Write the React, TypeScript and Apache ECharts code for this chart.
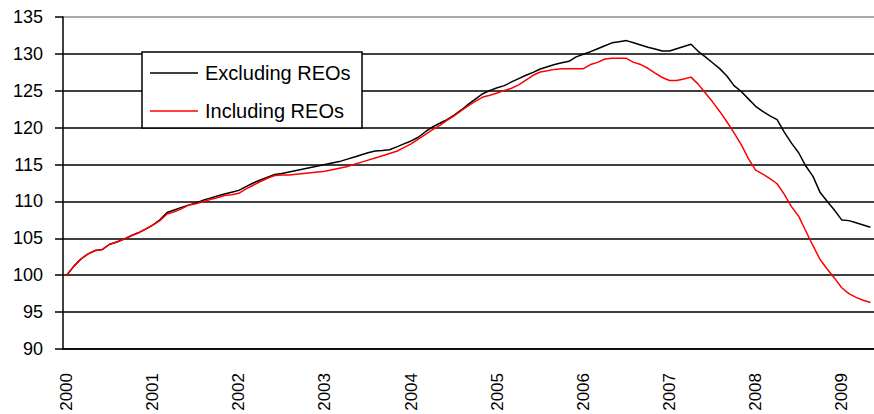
import React, { useEffect, useRef } from 'react';
import * as echarts from 'echarts';

const years = ['2000', '2001', '2002', '2003', '2004', '2005', '2006', '2007', '2008', '2009'];
const months = ['01', '02', '03', '04', '05', '06', '07', '08', '09', '10', '11', '12'];
const monthCount = 113; // Jan 2000 .. May 2009
const categories = years.flatMap((y) => months.map((m) => `${y}-${m}`)).slice(0, monthCount);

const seriesNames = ['Excluding REOs', 'Including REOs'];

const excludingREOs = [
  100.0, 101.2, 102.2, 102.9, 103.35, 103.5, 104.2, 104.5, 104.9, 105.35, 105.75, 106.25,
  106.8, 107.5, 108.5, 108.85, 109.2, 109.5, 109.8, 110.15, 110.45, 110.75, 111.0, 111.25,
  111.5, 112.0, 112.5, 112.9, 113.3, 113.65, 113.8, 114.0, 114.2, 114.4, 114.6, 114.8,
  115.0, 115.2, 115.4, 115.7, 116.0, 116.3, 116.6, 116.85, 116.9, 117.0, 117.4, 117.8,
  118.2, 118.7, 119.45, 120.1, 120.6, 121.1, 121.7, 122.4, 123.2, 123.9, 124.6, 125.05,
  125.4, 125.7, 126.2, 126.65, 127.1, 127.5, 127.95, 128.25, 128.55, 128.8, 129.0, 129.6,
  129.95, 130.3, 130.7, 131.1, 131.5, 131.65, 131.8, 131.5, 131.2, 130.9, 130.65, 130.4,
  130.4, 130.7, 131.0, 131.3, 130.35, 129.6, 128.8, 128.0, 127.0, 125.7, 124.9, 123.9,
  122.9, 122.2, 121.6, 121.1, 119.4, 117.9, 116.6, 114.8, 113.4, 111.2, 110.0, 108.8,
  107.5, 107.4, 107.1, 106.8, 106.5,
];

const includingREOs = [
  100.0, 101.2, 102.2, 102.9, 103.35, 103.5, 104.2, 104.5, 104.9, 105.35, 105.75, 106.25,
  106.8, 107.4, 108.3, 108.6, 109.0, 109.5, 109.7, 109.95, 110.25, 110.5, 110.8, 110.9,
  111.1, 111.7, 112.2, 112.7, 113.15, 113.5, 113.6, 113.6, 113.7, 113.8, 113.9, 114.0,
  114.1, 114.3, 114.5, 114.7, 115.0, 115.3, 115.6, 115.9, 116.2, 116.5, 116.8, 117.3,
  117.8, 118.45, 119.1, 119.75, 120.3, 121.0, 121.6, 122.3, 123.0, 123.6, 124.15, 124.4,
  124.7, 125.05, 125.35, 125.8, 126.45, 127.1, 127.55, 127.7, 127.9, 128.0, 128.0, 128.0,
  128.0, 128.55, 128.85, 129.3, 129.4, 129.4, 129.4, 128.85, 128.55, 128.05, 127.4, 126.8,
  126.4, 126.4, 126.6, 126.85, 125.9, 124.7, 123.5, 122.2, 120.8, 119.3, 117.7, 115.8,
  114.25, 113.7, 113.1, 112.4, 110.95, 109.3, 108.0, 106.0, 104.0, 102.1, 100.8, 99.6,
  98.3, 97.5, 97.0, 96.6, 96.3,
];

const yMin = 90;
const yMax = 135;
const yStep = 5;

const FONT = '"Liberation Sans", Arial, Helvetica, sans-serif';
const LEGEND_LINE_ICON = 'path://M0,0H48V1.5H0Z';

export default function App() {
  const ref = useRef<HTMLDivElement>(null);

  useEffect(() => {
    if (!ref.current) return;
    const chart = echarts.init(ref.current, undefined, { renderer: 'svg' });
    const splitColors: string[] = [];
    for (let v = yMin; v <= yMax; v += yStep) splitColors.push(v === yMax ? '#8c8c8c' : '#000000');

    chart.setOption({
      animation: false,
      backgroundColor: '#ffffff',
      textStyle: { fontFamily: FONT },
      grid: { left: 63, right: 0, top: 17, bottom: 65, containLabel: false },
      legend: {
        data: seriesNames.map((name) => ({ name, icon: LEGEND_LINE_ICON })),
        orient: 'vertical',
        left: 150,
        top: 63,
        itemWidth: 48,
        itemHeight: 14,
        itemGap: 18,
        padding: 0,
        textStyle: { fontSize: 20, color: '#000', fontFamily: FONT, padding: [0, 0, 0, 2] },
        z: 10,
      },
      graphic: [
        {
          type: 'rect',
          z: 5,
          shape: { x: 142, y: 52, width: 220, height: 76 },
          style: { fill: '#ffffff', stroke: '#000000', lineWidth: 1.5 },
        },
      ],
      xAxis: {
        type: 'category',
        data: categories,
        boundaryGap: true,
        axisLine: { show: true, lineStyle: { color: '#000', width: 1.5 } },
        axisTick: { show: false },
        splitLine: { show: false },
        axisLabel: {
          interval: 11,
          rotate: 90,
          margin: 24,
          fontSize: 17,
          color: '#000',
          fontFamily: FONT,
          formatter: (v: string) => v.slice(0, 4),
        },
      },
      yAxis: {
        type: 'value',
        min: yMin,
        max: yMax,
        interval: yStep,
        axisLine: { show: true, lineStyle: { color: '#000', width: 1.5 } },
        axisTick: { show: true, length: 8, lineStyle: { color: '#000', width: 1.5 } },
        axisLabel: { fontSize: 18, color: '#000', margin: 20, fontFamily: FONT },
        splitLine: { show: true, lineStyle: { color: splitColors, width: 1.5 } },
      },
      series: [
        {
          name: seriesNames[0],
          type: 'line',
          data: excludingREOs,
          symbol: 'none',
          showSymbol: false,
          lineStyle: { color: '#000000', width: 1.5 },
          itemStyle: { color: '#000000' },
        },
        {
          name: seriesNames[1],
          type: 'line',
          data: includingREOs,
          symbol: 'none',
          showSymbol: false,
          lineStyle: { color: '#ff0000', width: 1.5 },
          itemStyle: { color: '#ff0000' },
        },
      ],
    });
    return () => chart.dispose();
  }, []);

  return (
    <div
      ref={ref}
      style={{ position: 'fixed', left: 0, top: 0, width: 874, height: 414, background: '#fff' }}
    />
  );
}
